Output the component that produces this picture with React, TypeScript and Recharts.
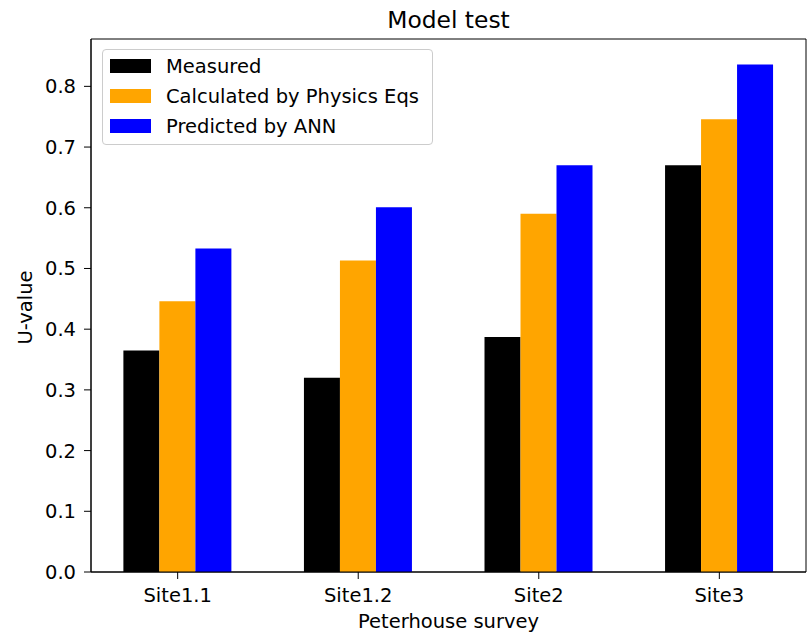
import { BarChart, Bar, XAxis, YAxis, ReferenceArea } from 'recharts';

const sites = ['Site1.1', 'Site1.2', 'Site2', 'Site3'];
const measured = [0.365, 0.32, 0.387, 0.67];
const calculated = [0.446, 0.513, 0.59, 0.746];
const predicted = [0.533, 0.601, 0.67, 0.836];
const yTicks = [0, 0.1, 0.2, 0.3, 0.4, 0.5, 0.6, 0.7, 0.8];

const series = [
  { key: 'measured', name: 'Measured', color: '#000000' },
  { key: 'calculated', name: 'Calculated by Physics Eqs', color: '#ffa500' },
  { key: 'predicted', name: 'Predicted by ANN', color: '#0000ff' },
];

const data = sites.map((s, i) => ({
  x: i,
  site: s,
  measured: measured[i],
  calculated: calculated[i],
  predicted: predicted[i],
}));

const FONT = '"DejaVu Sans", sans-serif';
const FS = 19.5;
const X_DOMAIN: [number, number] = [-0.48, 3.48];
const Y_DOMAIN: [number, number] = [0, 0.878];

export default function App() {
  return (
    <div style={{ position: 'absolute', left: 0, top: 0, width: 807, height: 635, background: '#fff', fontFamily: FONT }}>
      <BarChart
        width={807}
        height={635}
        data={data}
        margin={{ top: 39, right: 1, left: 0, bottom: 0 }}
        barGap={0}
        barSize={36}
      >
        <XAxis
          type="number"
          dataKey="x"
          domain={X_DOMAIN}
          ticks={[0, 1, 2, 3]}
          allowDataOverflow
          tickFormatter={(v) => sites[v] ?? ''}
          height={63}
          tickSize={7}
          tickMargin={9}
          stroke="#000"
          tick={{ fill: '#000', fontSize: FS, fontFamily: FONT }}
          label={{
            content: ({ viewBox }: any) => (
              <text
                x={viewBox.x + viewBox.width / 2}
                y={628}
                textAnchor="middle"
                fontSize={FS}
                fontFamily={FONT}
                fill="#000"
              >
                Peterhouse survey
              </text>
            ),
          }}
        />
        <YAxis
          type="number"
          domain={Y_DOMAIN}
          ticks={yTicks}
          allowDataOverflow
          width={91}
          tickSize={7}
          tickMargin={8}
          stroke="#000"
          tickFormatter={(v) => v.toFixed(1)}
          tick={{ fill: '#000', fontSize: FS, fontFamily: FONT }}
          label={{
            content: ({ viewBox }: any) => {
              const cy = viewBox.y + viewBox.height / 2 + 2;
              return (
                <text
                  x={32}
                  y={cy}
                  transform={`rotate(-90 32 ${cy})`}
                  textAnchor="middle"
                  fontSize={FS}
                  fontFamily={FONT}
                  fill="#000"
                >
                  U-value
                </text>
              );
            },
          }}
        />
        {series.map((s) => (
          <Bar key={s.key} dataKey={s.key} name={s.name} fill={s.color} isAnimationActive={false} />
        ))}
        <ReferenceArea
          x1={X_DOMAIN[0]}
          x2={X_DOMAIN[1]}
          y1={Y_DOMAIN[0]}
          y2={Y_DOMAIN[1]}
          fill="none"
          stroke="#000"
          strokeWidth={1}
          ifOverflow="visible"
        />
      </BarChart>
      <div
        style={{
          position: 'absolute', left: 0, width: 897, top: 5.6, textAlign: 'center',
          fontSize: 23.4, color: '#000', lineHeight: 'normal',
        }}
      >
        Model test
      </div>
      <div
        style={{
          position: 'absolute', left: 102, top: 49, width: 331, height: 96,
          border: '1px solid #cccccc', borderRadius: 4, background: 'rgba(255,255,255,0.8)',
          boxSizing: 'border-box', padding: '1px 0 0 7px',
        }}
      >
        {series.map((s) => (
          <div key={s.key} style={{ display: 'flex', alignItems: 'center', height: 30, fontSize: FS, color: '#000' }}>
            <span style={{ width: 41, height: 14, background: s.color, marginRight: 15 }} />
            {s.name}
          </div>
        ))}
      </div>
    </div>
  );
}
